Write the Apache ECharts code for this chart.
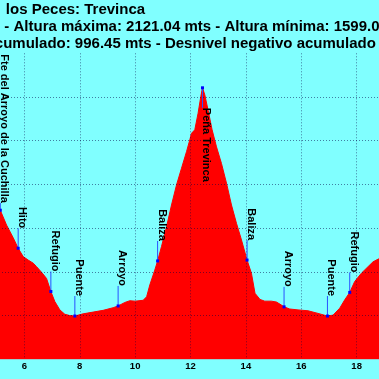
<!DOCTYPE html>
<html><head><meta charset="utf-8">
<script src="https://cdn.jsdelivr.net/npm/echarts@6/dist/echarts.min.js"></script>
<style>html,body{margin:0;padding:0;background:#80ffff;overflow:hidden;width:379px;height:379px}
#c{position:absolute;left:-30.87px;top:0;width:442.87px;height:379px}</style>
</head><body><div id="c"></div>
<script>
const titleLines = [
  'los Peces: Trevinca',
  '- Altura máxima: 2121.04 mts - Altura mínima: 1599.0',
  'cumulado: 996.45 mts - Desnivel negativo acumulado'
];
const distKm = [5.00, 5.13, 5.357, 5.596, 5.776, 5.957, 6.137, 6.318, 6.44, 6.621, 6.801, 6.957, 7.101, 7.282, 7.462, 7.643, 7.823,
  8.123, 8.484, 8.845, 9.206, 9.386, 9.628, 9.809, 10.0, 10.29, 10.415, 10.53, 10.71, 10.812, 10.953, 11.134, 11.314, 11.495,
  11.675, 11.856, 11.975, 12.036, 12.155, 12.274, 12.372, 12.433, 12.516, 12.635, 12.78, 12.939, 13.119, 13.3, 13.48, 13.661,
  13.841, 14.043, 14.2, 14.33, 14.51, 14.682, 14.924, 15.105, 15.285, 15.379, 15.585, 15.884, 16.245, 16.606, 16.946, 17.148,
  17.39, 17.57, 17.751, 17.931, 18.173, 18.412, 18.592, 18.773, 18.85];
const elevM = [1856, 1841, 1807, 1778, 1754, 1735, 1727, 1720, 1712, 1699, 1685, 1655, 1632, 1613, 1603, 1600, 1599,
  1604, 1608, 1612, 1618, 1622, 1630, 1634, 1633, 1635, 1643, 1670, 1704, 1725, 1758, 1803, 1853, 1899,
  1937, 1975, 2002, 2017, 2025, 2063, 2101, 2121.04, 2105, 2070, 2025, 1986, 1948, 1903, 1853, 1811,
  1773, 1727, 1697, 1651, 1637, 1633, 1633, 1631, 1624, 1620, 1615, 1613, 1611, 1605, 1599, 1601,
  1617, 1636, 1653, 1678, 1697, 1712, 1723, 1729, 1731];
const wpNames = ['Fte del Arroyo de la Cuchilla', 'Hito', 'Refugio', 'Puente', 'Arroyo', 'Baliza', 'Peña Trevinca',
  'Baliza', 'Arroyo', 'Puente', 'Refugio'];
const wpKm = [5.13, 5.776, 6.957, 7.823, 9.386, 10.812, 12.433, 14.043, 15.379, 16.946, 17.751];
const wpElev = [1841, 1754, 1655, 1599, 1622, 1725, 2121.04, 1727, 1620, 1599, 1653];

const FONT = '"Liberation Sans", Arial, sans-serif';
const SHIFT = 30.87;
const measureCtx = document.createElement('canvas').getContext('2d');
function textLen(s) { measureCtx.font = 'bold 11px ' + FONT; return measureCtx.measureText(s).width; }

function renderItem(params, api) {
  const i = api.value(2);
  const p = api.coord([api.value(0), api.value(1)]);
  const name = wpNames[i];
  const len = textLen(name);
  const top = params.coordSys.y + 1;
  const gap = 20;
  let start = p[1] - gap - len;
  if (start < top) start = top;
  let below = false;
  if (start + len > p[1] - 4) { below = true; start = p[1] + gap; }
  const lineY = below ? start : start + len;
  return {
    type: 'group',
    children: [
      { type: 'line', shape: { x1: p[0], y1: p[1], x2: p[0], y2: lineY }, style: { stroke: '#2a50ff', lineWidth: 1 } },
      { type: 'rect', shape: { x: p[0] - 1.5, y: p[1] - 1.5, width: 3, height: 3 }, style: { fill: '#0000ff' } },
      { type: 'text', x: p[0] + 4, y: start, rotation: -Math.PI / 2,
        style: { text: name, fontSize: 11, fontWeight: 'bold', fontFamily: FONT, fill: '#000', align: 'left', verticalAlign: 'middle' } }
    ]
  };
}

const gridLine = { show: true, lineStyle: { color: 'rgba(0,0,70,0.5)', type: [1, 2], width: 1 } };
const chart = echarts.init(document.getElementById('c'), null, { renderer: 'canvas' });
chart.setOption({
  backgroundColor: '#80ffff',
  animation: false,
  grid: { left: 0, right: 0, top: 53.3, bottom: 19.7, outerBoundsMode: 'none', containLabel: false },
  xAxis: {
    type: 'value', min: 4, max: 20, interval: 2, z: 2,
    axisLine: { show: false }, axisTick: { show: false },
    axisLabel: { color: '#000', fontWeight: 'bold', fontSize: 9.5, fontFamily: FONT, margin: 2 },
    splitLine: gridLine
  },
  yAxis: {
    type: 'value', min: 1500, max: 2200, interval: 100, z: 2,
    axisLine: { show: false }, axisTick: { show: false }, axisLabel: { show: false },
    splitLine: Object.assign({ showMinLine: false, showMaxLine: false }, gridLine)
  },
  graphic: [
    { type: 'text', x: 6 + SHIFT, y: 9.7, style: { text: titleLines[0], fontSize: 15, fontWeight: 'bold', fontFamily: FONT, fill: '#000', verticalAlign: 'middle' } },
    { type: 'text', x: 4.5 + SHIFT, y: 27.2, style: { text: titleLines[1], fontSize: 15, fontWeight: 'bold', fontFamily: FONT, fill: '#000', verticalAlign: 'middle' } },
    { type: 'text', x: -5 + SHIFT, y: 44.3, style: { text: titleLines[2], fontSize: 15, fontWeight: 'bold', fontFamily: FONT, fill: '#000', verticalAlign: 'middle' } }
  ],
  series: [
    {
      type: 'line', z: 1, symbol: 'none', smooth: false,
      data: distKm.map((d, i) => [d, elevM[i]]),
      lineStyle: { color: '#ff0000', width: 1 },
      itemStyle: { color: '#ff0000' },
      areaStyle: { color: '#ff0000', opacity: 1, origin: 'start' }
    },
    {
      type: 'custom', z: 3, clip: false,
      data: wpKm.map((d, i) => [d, wpElev[i], i]),
      renderItem: renderItem
    }
  ]
});
</script></body></html>
